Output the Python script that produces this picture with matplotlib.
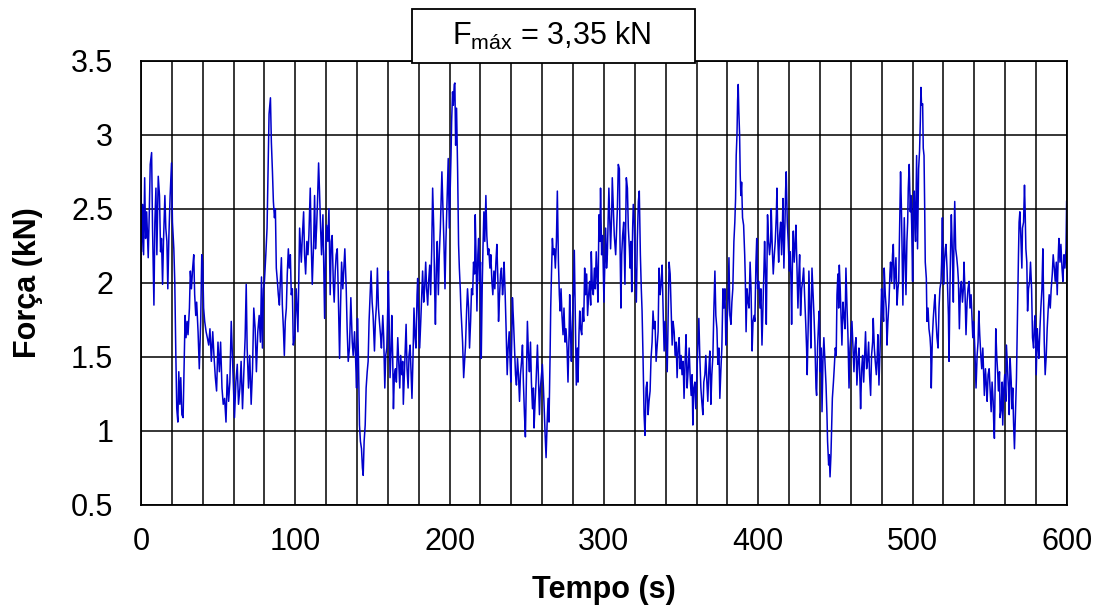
import matplotlib
matplotlib.use("Agg")
import matplotlib.pyplot as plt
from matplotlib.patches import Rectangle
from matplotlib.ticker import MultipleLocator

plt.rcParams['font.family'] = ['Liberation Sans', 'DejaVu Sans']
plt.rcParams['mathtext.fontset'] = 'custom'
plt.rcParams['mathtext.rm'] = 'Liberation Sans'

# force readings (time in s, force in kN), one list per 100 s stretch
seg_000 = [(0, 2.59), (0.4, 2.21), (1.1, 2.53), (1.7, 2.19), (2.4, 2.71), (3.0, 2.30), (3.7, 2.48), (4.3, 2.28),
           (4.7, 2.17), (5.4, 2.48), (6.0, 2.80), (6.9, 2.88), (7.5, 2.37), (8.4, 1.85), (9.0, 2.41), (9.7, 2.64),
           (10.3, 2.19), (11.2, 2.72), (12.0, 2.59), (12.7, 2.21), (13.3, 2.30), (14.0, 1.99), (14.6, 2.28),
           (15.5, 2.59), (16.1, 2.37), (16.8, 2.28), (17.4, 1.96), (18.1, 2.32), (18.9, 2.59), (19.8, 2.81),
           (20.4, 2.41), (21.3, 2.23), (21.9, 2.01), (22.6, 1.51), (23.2, 1.15), (23.9, 1.06), (24.5, 1.40),
           (25.2, 1.18), (25.8, 1.36), (26.5, 1.11), (27.3, 1.09), (28.0, 1.45), (28.6, 1.78), (29.2, 1.63),
           (29.9, 1.74), (30.5, 1.65), (31.4, 1.83), (32.0, 2.08), (32.7, 1.96), (33.5, 2.10), (34.2, 2.19),
           (34.8, 1.92), (35.5, 1.78), (36.1, 1.87), (37.0, 1.67), (37.8, 1.42), (38.7, 1.74), (39.4, 2.19),
           (40.0, 2.14), (40.6, 1.83), (41.3, 1.74), (42.2, 1.67), (43.0, 1.63), (43.9, 1.58), (44.7, 1.69),
           (45.6, 1.47), (46.5, 1.67), (47.3, 1.51), (48.2, 1.36), (49.0, 1.27), (49.9, 1.60), (50.8, 1.40),
           (51.6, 1.60), (52.5, 1.29), (53.3, 1.18), (54.2, 1.22), (55.1, 1.06), (55.9, 1.38), (56.8, 1.20),
           (57.6, 1.33), (58.5, 1.74), (59.4, 1.47), (60.2, 1.24), (60.6, 1.09), (61.5, 1.33), (62.4, 1.45),
           (63.2, 1.18), (64.1, 1.29), (64.9, 1.47), (65.8, 1.15), (66.7, 1.40), (67.5, 1.63), (68.2, 1.99),
           (68.8, 1.56), (69.7, 1.29), (70.5, 1.51), (71.4, 1.18), (72.3, 1.42), (73.1, 1.83), (74.0, 1.69),
           (74.8, 1.40), (75.7, 1.67), (76.6, 1.78), (77.4, 1.60), (78.1, 2.04), (78.7, 1.56), (79.4, 1.96),
           (80.0, 2.01), (80.9, 2.19), (81.7, 2.37), (82.4, 2.77), (83.0, 3.14), (83.9, 3.25), (84.5, 2.95),
           (85.2, 2.75), (85.8, 2.55), (86.5, 2.44), (87.1, 2.50), (87.7, 2.10), (88.4, 2.01), (89.0, 1.92),
           (89.7, 1.85), (90.3, 2.01), (91.0, 2.17), (91.6, 1.85), (92.3, 1.69), (92.9, 1.51), (93.5, 1.74),
           (94.2, 1.83), (94.8, 2.06), (95.5, 2.23), (96.1, 2.10), (96.8, 2.19), (97.4, 1.92), (98.1, 1.96),
           (98.7, 1.58)]

seg_100 = [(99.6, 1.63), (100.6, 1.96), (101.7, 1.67), (102.8, 2.37), (103.9, 2.14), (104.5, 2.30), (105.4, 2.48),
           (106.0, 2.19), (106.7, 2.06), (107.5, 2.28), (108.2, 2.19), (108.8, 2.32), (109.7, 2.64), (110.3, 2.28),
           (111.0, 1.99), (111.9, 2.28), (112.5, 2.59), (113.1, 2.23), (113.8, 2.37), (114.4, 2.55), (115.1, 2.81),
           (115.7, 2.62), (116.4, 2.37), (117.0, 2.19), (117.9, 2.46), (118.5, 2.10), (119.0, 1.76), (119.6, 2.19),
           (120.3, 2.39), (121.1, 2.28), (121.8, 2.50), (122.6, 1.92), (123.3, 2.28), (123.9, 2.32), (124.6, 2.01),
           (125.2, 1.87), (125.9, 2.08), (126.5, 2.19), (127.2, 2.23), (127.8, 1.96), (128.7, 1.49), (129.3, 1.83),
           (130.0, 2.14), (130.8, 1.96), (131.5, 2.10), (132.1, 2.23), (133.0, 1.96), (133.6, 1.69), (134.3, 1.47),
           (135.1, 1.56), (136.0, 1.90), (136.9, 1.60), (137.5, 1.51), (138.4, 1.67), (139.0, 1.51), (139.7, 1.29),
           (140.3, 1.76), (140.9, 1.51), (141.6, 1.04), (142.2, 0.93), (142.9, 0.88), (143.5, 0.75), (144.0, 0.70),
           (144.6, 0.93), (145.3, 1.04), (145.9, 1.29), (146.6, 1.40), (147.2, 1.47), (147.8, 1.74), (148.5, 1.92),
           (149.1, 2.08), (149.8, 1.87), (150.4, 1.78), (151.3, 1.54), (151.9, 1.74), (152.6, 1.85), (153.2, 2.10),
           (153.9, 1.83), (154.5, 1.74), (155.2, 1.65), (155.8, 1.56), (156.7, 1.78), (157.3, 1.63), (158.0, 1.29),
           (158.6, 1.51), (159.3, 1.56), (159.9, 1.83), (160.3, 2.08), (161.0, 1.63), (161.4, 1.36), (162.1, 1.56),
           (162.5, 1.78), (163.1, 1.51), (163.6, 1.15), (164.2, 1.38), (164.9, 1.42), (165.5, 1.33), (166.4, 1.63),
           (167.0, 1.47), (167.7, 1.29), (168.3, 1.51), (169.0, 1.38), (169.6, 1.47), (170.0, 1.18), (170.9, 1.45),
           (171.8, 1.72), (172.4, 1.42), (173.1, 1.29), (173.7, 1.51), (174.4, 1.58), (175.0, 1.40), (175.6, 1.22),
           (176.3, 1.51), (176.9, 1.83), (177.6, 1.63), (178.2, 1.56), (178.9, 1.92), (179.3, 2.03), (180.0, 1.74),
           (180.6, 1.56), (181.3, 1.74), (181.9, 1.92), (182.5, 2.08), (183.2, 1.87), (183.8, 1.96), (184.5, 2.14),
           (185.1, 1.96), (185.8, 1.85), (186.4, 2.01), (187.1, 2.12), (187.7, 1.92), (188.4, 2.23), (189.0, 2.64),
           (189.7, 2.37), (190.3, 1.96), (190.8, 1.72), (191.4, 2.10), (192.0, 2.28), (192.7, 1.92), (193.3, 2.19),
           (194.0, 2.37), (194.6, 2.59), (195.0, 2.75), (195.7, 2.50), (196.3, 2.28), (197.0, 1.96), (197.6, 2.28),
           (198.3, 2.53), (199.1, 2.84)]

seg_200 = [(199.8, 2.37), (200.4, 2.64), (200.9, 2.86), (201.3, 3.09), (201.9, 3.29), (202.4, 3.20), (203.0, 3.34),
           (203.4, 3.35), (203.9, 2.93), (204.5, 3.18), (205.2, 2.75), (205.8, 2.26), (206.3, 2.10), (206.9, 1.96),
           (207.3, 1.83), (208.0, 1.69), (208.4, 1.60), (209.1, 1.36), (209.7, 1.47), (210.3, 1.58), (211.0, 1.81),
           (211.6, 1.96), (212.3, 1.83), (212.9, 1.56), (213.6, 1.74), (214.2, 1.96), (214.9, 1.92), (215.5, 2.14),
           (216.2, 2.06), (216.6, 2.46), (217.2, 2.14), (217.7, 1.81), (218.3, 2.19), (218.8, 2.30), (219.4, 2.01),
           (220.0, 2.14), (220.5, 1.49), (221.1, 1.96), (221.6, 2.23), (222.2, 2.48), (222.8, 2.28), (223.5, 2.59),
           (224.1, 2.32), (224.8, 2.19), (225.4, 2.23), (226.1, 2.10), (226.7, 2.19), (227.4, 2.01), (228.0, 1.92),
           (228.7, 2.08), (229.3, 1.96), (230.0, 2.14), (230.6, 2.26), (231.3, 2.01), (231.7, 1.74), (232.3, 1.90),
           (233.0, 2.06), (233.6, 2.10), (234.3, 1.92), (234.9, 2.01), (235.3, 2.14), (236.0, 1.92), (236.6, 1.69),
           (237.3, 1.38), (237.9, 1.56), (238.6, 1.67), (239.2, 1.47), (239.7, 1.33), (240.3, 1.63), (240.7, 1.90),
           (241.4, 1.74), (242.0, 1.58), (242.7, 1.38), (243.3, 1.31), (244.0, 1.49), (244.6, 1.38), (245.3, 1.20),
           (245.9, 1.38), (246.6, 1.47), (247.2, 1.58), (247.8, 1.33), (248.5, 1.11), (249.1, 0.96), (249.8, 1.40),
           (250.4, 1.74), (251.1, 1.51), (251.7, 1.40), (252.4, 1.60), (253.0, 1.33), (253.7, 1.15), (254.3, 1.29),
           (254.7, 1.02), (255.4, 1.20), (256.0, 1.33), (256.9, 1.58), (257.5, 1.38), (258.2, 1.11), (258.8, 1.29),
           (259.5, 1.38), (260.1, 1.45), (260.8, 1.29), (261.4, 1.11), (261.9, 0.97), (262.5, 0.82), (263.2, 1.06),
           (263.8, 1.22), (264.4, 1.06), (265.1, 1.51), (265.5, 1.83), (266.0, 2.06), (266.6, 2.30), (267.2, 2.19),
           (267.9, 2.23), (268.5, 2.10), (269.2, 2.28), (269.8, 2.62), (270.5, 2.14), (271.1, 1.92), (271.6, 1.81),
           (272.2, 1.96), (272.8, 1.78), (273.5, 1.65), (274.1, 1.83), (274.8, 1.60), (275.4, 1.69), (276.1, 1.56),
           (276.7, 1.33), (277.4, 1.65), (277.8, 1.92), (278.4, 1.63), (278.9, 1.47), (279.5, 1.74), (280.2, 1.92),
           (280.8, 2.22), (281.5, 1.74), (282.1, 1.31), (282.8, 1.56), (283.2, 1.33), (283.8, 1.65), (284.3, 1.81),
           (284.9, 1.69), (285.6, 1.65), (286.2, 1.83), (286.9, 1.74), (287.5, 2.10), (288.1, 1.92), (288.8, 2.06),
           (289.4, 1.78), (290.1, 1.92), (290.7, 2.01), (291.4, 1.85), (291.8, 2.21), (292.5, 1.96), (293.1, 1.92),
           (293.8, 2.10), (294.4, 1.96), (295.0, 2.21), (295.7, 2.01), (296.1, 1.87), (296.8, 2.46), (297.4, 2.28),
           (297.8, 2.64), (298.5, 2.19), (299.1, 2.32)]

seg_300 = [(300.0, 1.87), (300.6, 2.14), (301.1, 2.37), (301.7, 2.10), (302.2, 2.19), (302.8, 2.46), (303.2, 2.64),
           (303.9, 2.37), (304.3, 2.23), (305.0, 2.46), (305.4, 2.71), (306.1, 2.50), (306.7, 2.32), (307.6, 2.19),
           (308.2, 2.37), (308.7, 2.50), (309.3, 2.80), (310.0, 2.77), (310.4, 2.28), (311.0, 1.83), (311.5, 2.19),
           (312.1, 2.32), (312.8, 2.41), (313.2, 2.19), (313.6, 1.99), (314.1, 2.41), (314.5, 2.71), (315.2, 2.64),
           (315.8, 2.37), (316.5, 2.23), (316.9, 2.10), (317.5, 2.28), (318.0, 1.94), (318.6, 2.37), (319.0, 2.53),
           (319.7, 2.41), (320.3, 2.10), (321.0, 1.87), (321.6, 2.28), (322.3, 2.55), (322.9, 2.62), (323.6, 2.19),
           (324.2, 1.96), (324.7, 1.81), (325.3, 1.51), (326.0, 1.11), (326.6, 0.97), (327.3, 1.29), (327.9, 1.33),
           (328.6, 1.11), (329.2, 1.20), (329.9, 1.27), (330.5, 1.49), (331.2, 1.60), (331.8, 1.81), (332.5, 1.69),
           (333.1, 1.74), (333.8, 1.47), (334.4, 1.56), (335.1, 1.67), (335.7, 2.10), (336.4, 1.92), (337.0, 1.99),
           (337.7, 2.12), (338.3, 1.83), (339.0, 1.54), (339.6, 1.74), (340.3, 1.60), (341.0, 1.40), (341.6, 1.78),
           (342.2, 2.14), (342.9, 2.06), (343.5, 1.83), (344.2, 1.58), (344.8, 1.74), (345.5, 1.67), (346.1, 1.51),
           (346.8, 1.60), (347.4, 1.36), (348.1, 1.56), (348.7, 1.63), (349.4, 1.42), (350.0, 1.51), (350.6, 1.38),
           (351.3, 1.47), (351.9, 1.22), (352.6, 1.47), (353.2, 1.65), (353.9, 1.29), (354.5, 1.40), (355.2, 1.56),
           (355.8, 1.38), (356.5, 1.24), (357.1, 1.38), (357.6, 1.04), (358.2, 1.29), (358.9, 1.33), (359.5, 1.15),
           (360.2, 1.38), (360.8, 1.56), (361.5, 1.76), (362.1, 1.51), (362.8, 1.29), (363.4, 1.20), (364.1, 1.11),
           (364.7, 1.33), (365.4, 1.38), (366.0, 1.51), (366.7, 1.33), (367.3, 1.20), (368.0, 1.42), (368.6, 1.54),
           (369.3, 1.18), (369.9, 1.38), (370.6, 1.51), (371.2, 1.81), (371.9, 2.08), (372.5, 1.78), (373.2, 1.69),
           (373.8, 1.45), (374.5, 1.56), (375.1, 1.22), (375.8, 1.42), (376.4, 1.56), (377.1, 1.96), (377.7, 1.83),
           (378.4, 1.96), (379.0, 1.58), (379.7, 1.74), (380.3, 1.83), (381.0, 2.17), (381.6, 1.78), (382.3, 1.72),
           (382.9, 1.87), (383.5, 1.96), (384.2, 2.28), (384.8, 2.41), (385.3, 2.57), (385.7, 2.86), (386.2, 3.00),
           (386.6, 3.23), (387.0, 3.34), (387.4, 3.16), (387.9, 3.00), (388.3, 2.73), (388.7, 2.59), (389.2, 2.68),
           (389.8, 2.44), (390.5, 2.39), (391.2, 2.19), (391.6, 2.03), (392.1, 1.67), (392.7, 1.96), (393.4, 1.87),
           (394.0, 1.83), (394.7, 2.14), (395.3, 1.96), (396.0, 1.54), (396.6, 1.74), (397.3, 1.78), (397.8, 1.74),
           (398.5, 2.14), (399.0, 2.30), (399.6, 1.96)]

seg_400 = [(400.4, 2.01), (401.1, 1.83), (401.7, 1.96), (402.4, 1.58), (403.0, 1.81), (403.7, 2.10), (404.1, 2.28),
           (404.8, 2.01), (405.2, 1.72), (405.6, 2.10), (406.0, 2.46), (406.7, 2.28), (407.3, 2.19), (408.0, 2.28),
           (408.4, 2.50), (409.1, 2.23), (409.7, 2.06), (410.4, 2.19), (411.0, 2.28), (411.7, 2.46), (412.1, 2.64),
           (412.7, 2.28), (413.2, 2.14), (413.8, 2.32), (414.5, 2.41), (415.1, 2.19), (415.6, 2.37), (416.0, 2.57),
           (416.6, 2.10), (417.3, 2.41), (417.7, 2.62), (418.1, 2.75), (418.8, 2.41), (419.4, 2.28), (420.1, 2.08),
           (420.7, 2.21), (421.2, 2.01), (421.6, 1.72), (422.2, 2.19), (422.7, 2.35), (423.3, 2.14), (424.0, 2.28),
           (424.4, 2.39), (425.1, 2.08), (425.7, 1.83), (426.3, 2.06), (426.8, 2.19), (427.4, 1.78), (428.1, 1.96),
           (428.7, 2.01), (429.4, 2.10), (430.0, 1.92), (430.7, 1.74), (431.3, 1.56), (431.7, 1.38), (432.4, 1.74),
           (432.8, 2.08), (433.5, 1.83), (434.1, 1.56), (434.8, 2.10), (435.4, 1.96), (436.1, 1.78), (436.7, 1.60),
           (437.4, 1.29), (437.8, 1.24), (438.4, 1.56), (439.1, 1.74), (439.5, 1.81), (440.2, 1.40), (440.8, 1.56),
           (441.3, 1.13), (441.9, 1.47), (442.5, 1.63), (443.2, 1.47), (443.9, 1.31), (444.5, 1.11), (444.9, 0.93),
           (445.6, 0.77), (446.0, 0.84), (446.5, 0.69), (447.1, 0.84), (447.6, 1.06), (448.0, 1.22), (448.7, 1.33),
           (449.2, 1.42), (449.9, 1.56), (450.5, 1.51), (451.0, 1.92), (451.6, 2.06), (452.1, 1.83), (452.5, 2.12),
           (453.1, 1.96), (453.6, 1.78), (454.2, 1.58), (454.9, 1.87), (455.5, 1.78), (456.2, 1.69), (456.8, 2.10),
           (457.5, 1.83), (458.1, 1.65), (458.8, 1.29), (459.4, 1.56), (460.0, 1.65), (460.7, 1.74), (461.3, 1.58),
           (462.0, 1.40), (462.6, 1.56), (463.3, 1.63), (463.9, 1.31), (464.6, 1.47), (465.2, 1.56), (465.9, 1.33),
           (466.3, 1.15), (467.0, 1.42), (467.6, 1.51), (468.3, 1.33), (468.9, 1.51), (469.5, 1.67), (470.2, 1.42),
           (470.8, 1.47), (471.5, 1.60), (472.1, 1.38), (472.8, 1.24), (473.4, 1.51), (474.1, 1.60), (474.5, 1.76),
           (475.2, 1.56), (475.8, 1.47), (476.5, 1.38), (477.1, 1.51), (477.5, 1.65), (478.2, 1.31), (478.8, 1.51),
           (479.3, 1.69), (479.9, 1.96), (480.6, 1.83), (481.2, 1.74), (481.6, 2.10), (482.3, 1.92), (482.9, 1.83),
           (483.4, 1.58), (484.0, 1.74), (484.7, 1.87), (485.3, 2.06), (485.7, 2.14), (486.4, 2.01), (487.0, 2.19),
           (487.5, 2.26), (488.1, 1.96), (488.8, 2.10), (489.2, 2.17), (489.9, 1.85), (490.5, 1.96), (491.0, 2.01),
           (491.6, 2.37), (492.2, 2.75), (492.7, 2.53), (493.1, 2.28), (493.7, 1.85), (494.2, 2.19), (494.6, 2.44),
           (495.2, 2.14), (495.7, 1.92), (496.3, 2.28), (496.8, 2.41), (497.2, 2.64), (497.8, 2.80), (498.5, 2.48),
           (498.9, 2.59), (499.4, 2.39), (500.0, 2.01)]

seg_500 = [(500.4, 2.53), (501.1, 2.62), (501.5, 2.37), (501.9, 2.28), (502.6, 2.86), (503.2, 2.23), (503.9, 2.77),
           (504.5, 2.89), (505.0, 3.09), (505.4, 3.32), (505.8, 3.20), (506.5, 3.21), (506.9, 2.91), (507.4, 2.86),
           (507.8, 2.53), (508.2, 2.14), (508.9, 2.03), (509.3, 1.74), (510.0, 1.83), (510.6, 1.69), (511.3, 1.63),
           (511.7, 1.56), (512.1, 1.29), (512.8, 1.63), (513.4, 1.76), (514.1, 1.87), (514.5, 1.92), (515.2, 1.74),
           (515.8, 1.63), (516.5, 1.56), (517.1, 1.83), (517.7, 1.96), (518.4, 2.01), (518.8, 2.14), (519.3, 2.44),
           (519.7, 2.14), (520.1, 1.99), (520.6, 2.14), (521.2, 2.23), (521.6, 2.26), (522.3, 2.10), (522.7, 1.96),
           (523.2, 1.78), (523.6, 1.47), (524.2, 1.96), (524.7, 2.28), (525.1, 2.46), (525.8, 2.19), (526.4, 1.87),
           (526.8, 2.28), (527.3, 2.55), (527.9, 2.23), (528.6, 2.17), (529.2, 2.10), (529.7, 2.01), (530.3, 1.69),
           (531.0, 1.96), (531.6, 2.01), (532.3, 1.87), (532.9, 1.96), (533.3, 2.14), (534.0, 1.92), (534.6, 1.65),
           (535.3, 1.87), (535.9, 1.96), (536.6, 2.01), (537.2, 1.83), (537.9, 1.92), (538.3, 1.81), (539.0, 1.63),
           (539.6, 1.74), (540.3, 1.56), (540.7, 1.42), (541.1, 1.29), (541.8, 1.51), (542.4, 1.60), (542.9, 1.81),
           (543.5, 1.65), (544.2, 1.51), (544.8, 1.42), (545.5, 1.56), (546.1, 1.38), (546.5, 1.24), (547.2, 1.42),
           (547.8, 1.31), (548.3, 1.20), (548.9, 1.38), (549.6, 1.42), (550.2, 1.29), (550.9, 1.13), (551.5, 1.33),
           (552.2, 1.20), (552.6, 1.04), (553.0, 0.95), (553.5, 1.33), (553.9, 1.69), (554.5, 1.51), (555.2, 1.38),
           (555.6, 1.27), (556.3, 1.40), (556.7, 1.09), (557.4, 1.15), (558.0, 1.33), (558.4, 1.04), (559.1, 1.29),
           (559.7, 1.38), (560.4, 1.20), (560.8, 1.58), (561.5, 1.42), (562.1, 1.29), (562.6, 1.11), (563.2, 1.49),
           (563.9, 1.33), (564.3, 1.15), (564.9, 1.29), (565.4, 1.06), (566.0, 0.88), (566.5, 1.06), (566.9, 1.18),
           (567.3, 1.36), (567.7, 1.63), (568.2, 1.96), (568.6, 2.19), (569.0, 2.41), (569.5, 2.48), (570.1, 2.32),
           (570.8, 2.10), (571.2, 2.37), (571.9, 2.41), (572.5, 2.66), (572.9, 2.50), (573.4, 2.23), (574.0, 2.14),
           (574.5, 1.81), (575.1, 1.96), (575.8, 2.01), (576.4, 2.14), (577.1, 1.96), (577.7, 1.63), (578.4, 1.56),
           (579.0, 1.74), (579.5, 1.78), (580.1, 1.38), (580.8, 1.69), (581.4, 1.56), (581.8, 1.49), (582.5, 1.69),
           (583.1, 1.83), (583.8, 1.96), (584.4, 2.23), (584.8, 1.96), (585.3, 1.60), (585.9, 1.38), (586.6, 1.51),
           (587.2, 1.69), (587.9, 1.83), (588.5, 1.92), (589.2, 1.83), (589.8, 1.96), (590.5, 2.06), (591.1, 2.19),
           (591.8, 2.10), (592.4, 2.01), (593.1, 2.14), (593.7, 1.92), (594.4, 2.19), (594.8, 2.30), (595.5, 2.14),
           (596.1, 2.26), (596.8, 2.10), (597.4, 2.01), (598.1, 2.19), (598.7, 2.10), (599.4, 2.23), (599.8, 2.55)]

segments = [seg_000, seg_100, seg_200, seg_300, seg_400, seg_500]
tempo = [p[0] for s in segments for p in s]
forca = [p[1] for s in segments for p in s]

f_max_label = "F$_{\\mathrm{máx}}$ = 3,35 kN"

fig = plt.figure(figsize=(11.03, 6.09), dpi=100)
ax = fig.add_axes([0.1278, 0.1708, 0.8395, 0.7294])

ax.plot(tempo, forca, color='#0000CC', linewidth=1.1)

ax.set_xlim(0, 600)
ax.set_ylim(0.5, 3.5)
ax.xaxis.set_major_locator(MultipleLocator(100))
ax.xaxis.set_minor_locator(MultipleLocator(20))
ax.yaxis.set_major_locator(MultipleLocator(0.5))
ax.grid(True, which='both', color='black', linewidth=1.1)
ax.tick_params(axis='both', which='both', length=0, labelsize=22)
ax.tick_params(axis='x', pad=16)
ax.tick_params(axis='y', pad=20)
ax.set_yticks([0.5, 1, 1.5, 2, 2.5, 3, 3.5])
ax.set_yticklabels(['0.5', '1', '1.5', '2', '2.5', '3', '3.5'])
for sp in ax.spines.values():
    sp.set_linewidth(1.3)

ax.set_xlabel("Tempo (s)", fontsize=22, fontweight='bold')
ax.set_ylabel("Força (kN)", fontsize=22, fontweight='bold')
ax.xaxis.set_label_coords(0.5, -0.158)
ax.yaxis.set_label_coords(-0.106, 0.5)

# box with the peak force above the plot
fig.patches.append(Rectangle((0.3735, 0.8966), 0.2566, 0.0887, transform=fig.transFigure,
                             facecolor='white', edgecolor='black', linewidth=1.3, zorder=5))
fig.text(0.5005, 0.941, f_max_label, fontsize=22, ha='center', va='center', zorder=6)

fig.savefig("out.png", dpi=100)
